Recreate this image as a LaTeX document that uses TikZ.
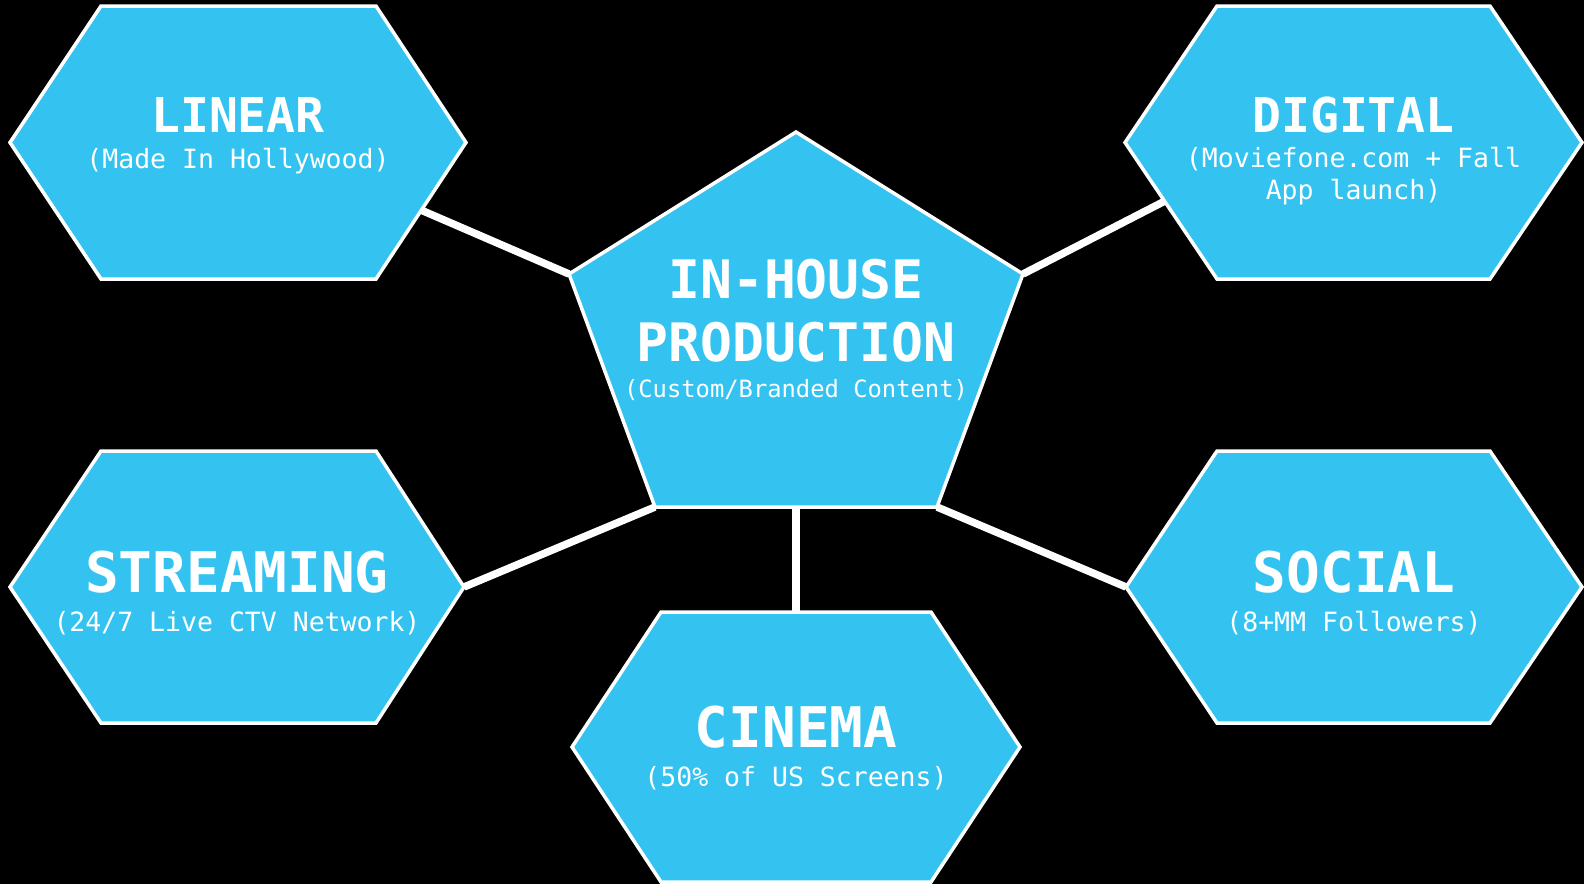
\documentclass[tikz,border=0pt]{standalone}
\usepackage{fontspec}
\setmonofont{DejaVu Sans Mono}
\usetikzlibrary{calc}
\definecolor{cyanfill}{HTML}{34C3F1}
\tikzset{
  shapebox/.style={fill=cyanfill, draw=white, line width=3.5pt, line join=miter},
  link/.style={draw=white, line width=7.5pt},
  ttl/.style={text=white, anchor=base, inner sep=0pt, font=\ttfamily\bfseries\fontsize{48}{48}\selectfont},
  bigttl/.style={ttl, font=\ttfamily\bfseries\fontsize{56}{56}\selectfont},
  penttl/.style={ttl, font=\ttfamily\bfseries\fontsize{53}{53}\selectfont},
  sub/.style={text=white, anchor=base, inner sep=0pt, font=\ttfamily\fontsize{26.5}{26.5}\selectfont},
  pensub/.style={sub, font=\ttfamily\fontsize{23.8}{23.8}\selectfont},
}
\newcommand\hexcoords[7]{%
  \coordinate (#1L) at (#2,{(#6+#7)/2});
  \coordinate (#1TL) at (#3,#6);
  \coordinate (#1TR) at (#4,#6);
  \coordinate (#1R) at (#5,{(#6+#7)/2});
  \coordinate (#1BR) at (#4,#7);
  \coordinate (#1BL) at (#3,#7);
}
\newcommand\hexfill[1]{%
  \path[shapebox] (#1L) -- (#1TL) -- (#1TR) -- (#1R) -- (#1BR) -- (#1BL) -- cycle;
}
\begin{document}
\begin{tikzpicture}[x=1pt,y=-1pt]
  \useasboundingbox (0,0) rectangle (1584,884);
  \fill[black] (0,0) rectangle (1584,884);

  % coordinates
  \hexcoords{lin}{10}{101}{376}{466}{6}{279}
  \hexcoords{dig}{1125}{1217}{1490}{1582}{6}{279}
  \hexcoords{str}{10}{101}{376}{464}{451}{723}
  \hexcoords{soc}{1126}{1217}{1490}{1582}{451}{723}
  \hexcoords{cin}{572}{661}{931}{1020}{612}{882}
  \coordinate (penT) at (796,132);
  \coordinate (penL) at (569,274);
  \coordinate (penR) at (1023,274);
  \coordinate (penBR) at (937,507);
  \coordinate (penBL) at (655,507);
  \coordinate (penB) at ($(penBL)!0.5!(penBR)$);
  \coordinate (linC) at ($(linR)!0.496!(linBR)$);
  \coordinate (digC) at ($(digL)!0.43!(digBL)$);
  \coordinate (cinC) at (penB |- cinTL);

  % connectors
  \draw[link] (linC) -- (penL);
  \draw[link] (digC) -- (penR);
  \draw[link] (strR) -- (penBL);
  \draw[link] (socL) -- (penBR);
  \draw[link] (penB) -- (cinC);

  % shapes
  \hexfill{lin}
  \hexfill{dig}
  \hexfill{str}
  \hexfill{soc}
  \hexfill{cin}
  \path[shapebox] (penT) -- (penR) -- (penBR) -- (penBL) -- (penL) -- cycle;

  % texts
  \node[ttl] (linT) at (238,132) {LINEAR};
  \node[sub] (linS) at (238,168) {(Made In Hollywood)};
  \node[ttl] (digT) at (1353.5,132) {DIGITAL};
  \node[sub] (digS1) at (1353.5,167) {(Moviefone.com + Fall};
  \node[sub] (digS2) at (1353.5,199) {App launch)};
  \node[bigttl] (strT) at (237,592) {STREAMING};
  \node[sub] (strS) at (237,631) {(24/7 Live CTV Network)};
  \node[bigttl] (socT) at (1354,592) {SOCIAL};
  \node[sub] (socS) at (1354,631) {(8+MM Followers)};
  \node[bigttl] (cinT) at (796,747) {CINEMA};
  \node[sub] (cinS) at (796,786) {(50\% of US Screens)};
  \node[penttl] (penT1) at (796,298) {IN-HOUSE};
  \node[penttl] (penT2) at (796,361) {PRODUCTION};
  \node[pensub] (penS) at (796,397) {(Custom/Branded Content)};
\end{tikzpicture}
\end{document}
